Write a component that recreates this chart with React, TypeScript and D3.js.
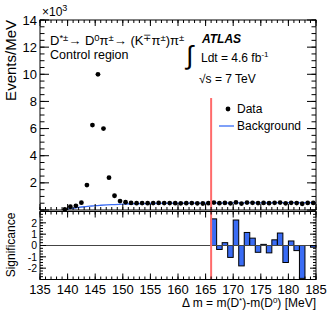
import { useEffect, useRef } from "react"
import * as d3 from "d3"

// Data points (bin centres in MeV, events/MeV in thousands)
const massBins = [
  139.5, 140.5, 141.5, 142.5, 143.5, 144.5, 145.5, 146.5, 147.5, 148.5, 149.5, 150.5, 151.5, 152.5, 153.5, 154.5,
  155.5, 156.5, 157.5, 158.5, 159.5, 160.5, 161.5, 162.5, 163.5, 164.5, 165.5, 166.5, 167.5, 168.5, 169.5, 170.5,
  171.5, 172.5, 173.5, 174.5, 175.5, 176.5, 177.5, 178.5, 179.5, 180.5, 181.5, 182.5, 183.5, 184.5,
]
const eventCounts = [
  0.05, 0.24, 0.31, 0.54, 1.84, 6.26, 10.0, 6.0, 2.38, 1.05, 0.66, 0.57, 0.52, 0.5, 0.51, 0.5, 0.51, 0.52, 0.51,
  0.51, 0.5, 0.49, 0.5, 0.51, 0.49, 0.48, 0.5, 0.55, 0.5, 0.52, 0.49, 0.56, 0.47, 0.55, 0.53, 0.51, 0.52, 0.5,
  0.53, 0.55, 0.49, 0.53, 0.51, 0.46, 0.52, 0.52,
]

// Background curve
const bkgMass = [139.6, 140, 141, 142, 143, 144, 145, 146, 148, 150, 152, 155, 160, 165, 170, 175, 180, 185]
const bkgValue = [0, 0.06, 0.13, 0.19, 0.24, 0.28, 0.32, 0.35, 0.4, 0.43, 0.46, 0.48, 0.5, 0.51, 0.52, 0.53, 0.54, 0.55]

// Significance histogram (bin low edges, 1 MeV wide)
const sigLowEdges = [166, 167, 168, 169, 170, 171, 172, 173, 174, 175, 176, 177, 178, 179, 180, 181, 182, 183, 184]
const sigValues = [2.35, -0.35, 0.25, -1.05, 2.25, -1.8, 1.15, 0.65, -0.6, 0.1, -0.65, 0.5, 1.1, -1.5, 0.4, -0.45, -2.9, 0, -0.15]

const xTicks = [135, 140, 145, 150, 155, 160, 165, 170, 175, 180, 185]
const yMainTicks = [2, 4, 6, 8, 10, 12, 14]
const ySigTicks = [-2, -1, 0, 1, 2]
const cutValue = 166
const cutTop = 8.25

const FONT = "Liberation Sans, Arial, Helvetica, sans-serif"
const BLUE = "#3a6cf4"

export default function App() {
  const svgRef = useRef<SVGSVGElement>(null)

  useEffect(() => {
    if (!svgRef.current) return
    const svg = d3.select(svgRef.current)
    svg.selectAll("*").remove()

    const left = 40
    const right = 316
    const mainTop = 20
    const mainBottom = 210
    const sigTop = 211.5
    const sigBottom = 279.5

    const x = d3.scaleLinear().domain([135, 185]).range([left, right])
    const y = d3.scaleLinear().domain([0, 14]).range([mainBottom, mainTop])
    const ys = d3.scaleLinear().domain([-3, 3]).range([sigBottom, sigTop])

    svg.append("rect").attr("width", 332).attr("height", 319).attr("fill", "white")

    // background curve
    const line = d3
      .line<number>()
      .x((d) => x(d))
      .y((_, i) => y(bkgValue[i]))
      .curve(d3.curveMonotoneX)
    svg.append("path").datum(bkgMass).attr("fill", "none").attr("stroke", BLUE).attr("stroke-width", 1.3).attr("d", line)

    // data points
    svg
      .append("g")
      .selectAll("circle")
      .data(massBins)
      .join("circle")
      .attr("cx", (d) => x(d))
      .attr("cy", (_, i) => y(eventCounts[i]))
      .attr("r", 2.4)
      .attr("fill", "black")

    // significance bars
    svg
      .append("g")
      .selectAll("rect")
      .data(sigLowEdges)
      .join("rect")
      .attr("x", (d) => x(d))
      .attr("width", (d) => x(d + 1) - x(d))
      .attr("y", (_, i) => ys(Math.max(0, sigValues[i])))
      .attr("height", (_, i) => Math.abs(ys(sigValues[i]) - ys(0)))
      .attr("fill", BLUE)
      .attr("stroke", "black")
      .attr("stroke-width", 1)

    // zero line
    svg
      .append("line")
      .attr("x1", left)
      .attr("x2", right)
      .attr("y1", ys(0))
      .attr("y2", ys(0))
      .attr("stroke", "#444")
      .attr("stroke-width", 1)

    // cut line
    svg
      .append("line")
      .attr("x1", x(cutValue))
      .attr("x2", x(cutValue))
      .attr("y1", y(cutTop))
      .attr("y2", sigBottom)
      .attr("stroke", "#ff6b6b")
      .attr("stroke-width", 2)

    // frames and ticks
    const tickLines = (
      g: d3.Selection<SVGGElement, unknown, null, undefined>,
      values: number[],
      pos: (v: number) => number,
      horizontal: boolean,
      base: number,
      len: number
    ) => {
      values.forEach((v) => {
        const p = pos(v)
        if (horizontal) {
          g.append("line").attr("x1", p).attr("x2", p).attr("y1", base).attr("y2", base + len)
        } else {
          g.append("line").attr("y1", p).attr("y2", p).attr("x1", base).attr("x2", base + len)
        }
      })
    }

    const axes = svg.append("g").attr("stroke", "black").attr("stroke-width", 1).attr("fill", "none")
    axes.append("rect").attr("x", left).attr("y", mainTop).attr("width", right - left).attr("height", mainBottom - mainTop)
    axes.append("rect").attr("x", left).attr("y", sigTop).attr("width", right - left).attr("height", sigBottom - sigTop)

    const xMinor = d3.range(135, 185.01, 1)
    const yMinor = d3.range(0, 14.01, 0.5)
    const ysMinor = d3.range(-3, 3.01, 0.25)

    // main panel
    tickLines(axes, xMinor, x, true, mainBottom, -3)
    tickLines(axes, xTicks, x, true, mainBottom, -6)
    tickLines(axes, xMinor, x, true, mainTop, 3)
    tickLines(axes, xTicks, x, true, mainTop, 6)
    tickLines(axes, yMinor, y, false, left, 4.5)
    tickLines(axes, [0, ...yMainTicks], y, false, left, 9)
    tickLines(axes, yMinor, y, false, right, -4.5)
    tickLines(axes, [0, ...yMainTicks], y, false, right, -9)

    // significance panel
    tickLines(axes, xMinor, x, true, sigBottom, -3)
    tickLines(axes, xTicks, x, true, sigBottom, -6)
    tickLines(axes, xMinor, x, true, sigTop, 3)
    tickLines(axes, xTicks, x, true, sigTop, 6)
    tickLines(axes, ysMinor, ys, false, left, 3)
    tickLines(axes, ySigTicks, ys, false, left, 6)
    tickLines(axes, ysMinor, ys, false, right, -3)
    tickLines(axes, ySigTicks, ys, false, right, -6)

    const labels = svg.append("g").attr("font-family", FONT).attr("fill", "black")

    labels
      .selectAll("text.xl")
      .data(xTicks)
      .join("text")
      .attr("x", (d) => x(d))
      .attr("y", 294)
      .attr("text-anchor", "middle")
      .attr("font-size", 13)
      .text((d) => d)

    labels
      .selectAll("text.yl")
      .data(yMainTicks)
      .join("text")
      .attr("x", 37)
      .attr("y", (d) => y(d) + 4.5)
      .attr("text-anchor", "end")
      .attr("font-size", 13)
      .text((d) => d)

    labels
      .selectAll("text.ysl")
      .data(ySigTicks)
      .join("text")
      .attr("x", 37)
      .attr("y", (d) => ys(d) + 3.8)
      .attr("text-anchor", "end")
      .attr("font-size", 10.5)
      .text((d) => d)

    // x10^3
    const mult = labels.append("text").attr("x", 42).attr("y", 16).attr("font-size", 12)
    mult.append("tspan").text("×10")
    mult.append("tspan").attr("dy", -5).attr("font-size", 9).text("3")

    // axis titles
    labels
      .append("text")
      .attr("transform", "translate(16,20) rotate(-90)")
      .attr("text-anchor", "end")
      .attr("font-size", 15)
      .text("Events/MeV")

    labels
      .append("text")
      .attr("transform", "translate(15,245) rotate(-90)")
      .attr("text-anchor", "middle")
      .attr("font-size", 12)
      .text("Significance")

    const xt = labels.append("text").attr("x", right).attr("y", 307).attr("text-anchor", "end").attr("font-size", 12)
    xt.append("tspan").text("Δ m = m(D")
    xt.append("tspan").attr("dy", -4).attr("font-size", 8).text("*")
    xt.append("tspan").attr("dy", 4).text(")-m(D")
    xt.append("tspan").attr("dy", -4).attr("font-size", 8).text("0")
    xt.append("tspan").attr("dy", 4).text(") [MeV]")

    // decay channel
    const parts: [string, boolean][] = [
      ["D", false],
      ["*±", true],
      ["→ D", false],
      ["0", true],
      ["π", false],
      ["±", true],
      ["→ (K", false],
      ["∓", true],
      ["π", false],
      ["±", true],
      [")π", false],
      ["±", true],
    ]
    const ch = labels.append("text").attr("x", 50).attr("y", 45).attr("font-size", 13)
    let up = false
    parts.forEach(([s, sup]) => {
      const t = ch.append("tspan").text(s)
      if (sup && !up) {
        t.attr("dy", -4.5).attr("font-size", 9.5)
        up = true
      } else if (sup) {
        t.attr("font-size", 9.5)
      } else if (up) {
        t.attr("dy", 4.5)
        up = false
      }
    })

    labels.append("text").attr("x", 50).attr("y", 59).attr("font-size", 12.5).text("Control region")

    // ATLAS label
    labels
      .append("text")
      .attr("x", 202)
      .attr("y", 43)
      .attr("font-size", 12)
      .attr("font-weight", "bold")
      .attr("font-style", "italic")
      .text("ATLAS")
    labels.append("text").attr("x", 186).attr("y", 64).attr("font-size", 26).text("∫")
    const lumi = labels.append("text").attr("x", 201).attr("y", 62).attr("font-size", 12)
    lumi.append("tspan").text("Ldt = 4.6 fb")
    lumi.append("tspan").attr("dy", -5).attr("font-size", 8).text("-1")
    labels.append("text").attr("x", 199).attr("y", 83).attr("font-size", 12).text("√s = 7 TeV")

    // legend
    svg.append("circle").attr("cx", 228).attr("cy", 109).attr("r", 2.4).attr("fill", "black")
    labels.append("text").attr("x", 237).attr("y", 113).attr("font-size", 12).text("Data")
    svg
      .append("line")
      .attr("x1", 219)
      .attr("x2", 234)
      .attr("y1", 126)
      .attr("y2", 126)
      .attr("stroke", BLUE)
      .attr("stroke-width", 1.3)
    labels.append("text").attr("x", 237).attr("y", 130).attr("font-size", 12).text("Background")
  }, [])

  return <svg ref={svgRef} width={332} height={319} style={{ position: "absolute", left: 0, top: 0 }} />
}
